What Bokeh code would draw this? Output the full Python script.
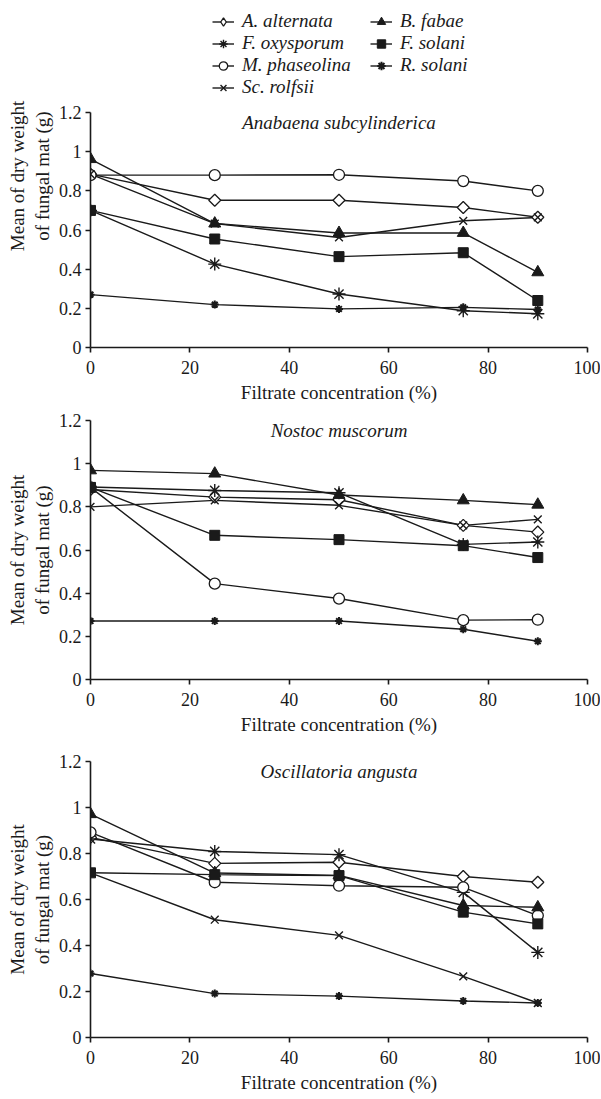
import math
from bokeh.plotting import figure
from bokeh.models import (Range1d, FixedTicker, Legend, LegendItem, Label,
                          ColumnDataSource)
from bokeh.layouts import column
from bokeh.embed import file_html
from bokeh.resources import INLINE

# ---------------- data ----------------
conc = [0, 25, 50, 75, 90]
species = ["A. alternata", "F. oxysporum", "M. phaseolina", "Sc. rolfsii",
           "B. fabae", "F. solani", "R. solani"]
panel_titles = ["Anabaena subcylinderica", "Nostoc muscorum", "Oscillatoria angusta"]
x_ticks = [0, 20, 40, 60, 80, 100]
y_ticks = [0, 0.2, 0.4, 0.6, 0.8, 1, 1.2]
y_tick_labels = ["0", "0.2", "0.4", "0.6", "0.8", "1", "1.2"]
y_max = 1.2

# Anabaena subcylinderica
ana_alternata = [0.885, 0.752, 0.752, 0.715, 0.665]
ana_oxysporum = [0.70, 0.426, 0.273, 0.188, 0.172]
ana_phaseolina = [0.88, 0.88, 0.882, 0.85, 0.80]
ana_rolfsii = [0.885, 0.633, 0.562, 0.647, 0.664]
ana_fabae = [0.962, 0.633, 0.585, 0.585, 0.384]
ana_fsolani = [0.70, 0.554, 0.464, 0.484, 0.24]
ana_rsolani = [0.27, 0.219, 0.197, 0.205, 0.194]

# Nostoc muscorum
nos_alternata = [0.88, 0.845, 0.833, 0.714, 0.683]
nos_oxysporum = [0.892, 0.876, 0.865, 0.626, 0.637]
nos_phaseolina = [0.89, 0.444, 0.375, 0.275, 0.277]
nos_rolfsii = [0.80, 0.83, 0.807, 0.714, 0.742]
nos_fabae = [0.969, 0.954, 0.855, 0.83, 0.81]
nos_fsolani = [0.89, 0.668, 0.648, 0.62, 0.565]
nos_rsolani = [0.271, 0.271, 0.271, 0.233, 0.177]

# Oscillatoria angusta
osc_alternata = [0.87, 0.757, 0.762, 0.70, 0.675]
osc_oxysporum = [0.863, 0.809, 0.795, 0.631, 0.37]
osc_phaseolina = [0.892, 0.675, 0.66, 0.653, 0.53]
osc_rolfsii = [0.716, 0.512, 0.444, 0.266, 0.15]
osc_fabae = [0.971, 0.715, 0.705, 0.574, 0.566]
osc_fsolani = [0.716, 0.708, 0.704, 0.545, 0.494]
osc_rsolani = [0.278, 0.191, 0.18, 0.159, 0.15]

panels = [
    [ana_alternata, ana_oxysporum, ana_phaseolina, ana_rolfsii, ana_fabae, ana_fsolani, ana_rsolani],
    [nos_alternata, nos_oxysporum, nos_phaseolina, nos_rolfsii, nos_fabae, nos_fsolani, nos_rsolani],
    [osc_alternata, osc_oxysporum, osc_phaseolina, osc_rolfsii, osc_fabae, osc_fsolani, osc_rsolani],
]

# ---------------- styles ----------------
INK = "#1a1a1a"
FONT = "Liberation Serif"
styles = {
    "A. alternata": dict(marker="square", angle=math.pi / 4, size=8.5, fill_color="white", line_width=1.3),
    "F. oxysporum": dict(marker="asterisk", angle=0, size=13, fill_color=INK, line_width=1.4),
    "M. phaseolina": dict(marker="circle", angle=0, size=11, fill_color="white", line_width=1.3),
    "Sc. rolfsii": dict(marker="x", angle=0, size=11, fill_color=INK, line_width=1.4),
    "B. fabae": dict(marker="triangle", angle=0, size=12, fill_color=INK, line_width=1.0),
    "F. solani": dict(marker="square", angle=0, size=10, fill_color=INK, line_width=1.0),
    "R. solani": dict(marker="asterisk", angle=0, size=8, fill_color=INK, line_width=2.0),
}

W = 600
LEFT = 90
RIGHT = 13
# (figure height, top border, bottom border, free frame px above the 1.2 line)
geom = [(410, 4, 63, 108), (340, 10, 71, 0), (347, 11, 60, 0)]

figs = []
for k, (data, title) in enumerate(zip(panels, panel_titles)):
    h, bt, bb, pad = geom[k]
    frame_h = h - bt - bb
    y_end = y_max * frame_h / (frame_h - pad)
    p = figure(width=W, height=h, output_backend="svg", toolbar_location=None,
               x_range=Range1d(0, 100), y_range=Range1d(0, y_end),
               min_border_left=LEFT, min_border_right=RIGHT,
               min_border_top=bt, min_border_bottom=bb,
               outline_line_color=None)
    p.xgrid.visible = False
    p.ygrid.visible = False
    line_rs, mark_rs = [], []
    for name, ys in zip(species, data):
        src = ColumnDataSource(dict(x=conc, y=ys))
        line_rs.append(p.line("x", "y", source=src, line_color=INK, line_width=1.4))
    for name, ys in zip(species, data):
        st = styles[name]
        src = ColumnDataSource(dict(x=conc, y=ys))
        mark_rs.append(p.scatter("x", "y", source=src, marker=st["marker"], angle=st["angle"],
                                 size=st["size"], fill_color=st["fill_color"], line_color=INK,
                                 line_width=st["line_width"]))
    # axes
    p.xaxis.ticker = FixedTicker(ticks=x_ticks)
    p.yaxis.ticker = FixedTicker(ticks=y_ticks)
    p.yaxis.bounds = (0, y_max)
    p.yaxis.major_label_overrides = {t: l for t, l in zip(y_ticks, y_tick_labels)}
    for ax in (p.xaxis[0], p.yaxis[0]):
        ax.axis_line_color = INK
        ax.axis_line_width = 1.6
        ax.major_tick_line_color = INK
        ax.major_tick_line_width = 1.6
        ax.major_tick_in = 0
        ax.major_tick_out = 5
        ax.minor_tick_line_color = None
        ax.major_label_text_font = FONT
        ax.major_label_text_font_size = "18px"
        ax.major_label_text_color = INK
        ax.axis_label_text_font = FONT
        ax.axis_label_text_font_size = "19px"
        ax.axis_label_text_font_style = "normal"
        ax.axis_label_text_color = INK
    p.xaxis.major_label_standoff = 8
    p.xaxis.axis_label_standoff = 5
    p.yaxis.major_label_standoff = 4
    p.yaxis.axis_label_standoff = 3
    p.xaxis.axis_label = "Filtrate concentration (%)"
    p.yaxis.axis_label = "Mean of dry weight\nof fungal mat (g)"
    p.add_layout(Label(x=50, y=frame_h - pad - 10, y_units="screen", text=title,
                       text_align="center", text_baseline="alphabetic",
                       text_font=FONT, text_font_style="italic",
                       text_font_size="19px", text_color=INK))
    if k == 0:
        # legend swatch for the diamond series (the legend ignores marker angle)
        diamond_key = p.scatter(conc, data[0], marker="diamond", size=13,
                                fill_color="white", line_color=INK, line_width=1.3,
                                visible=False)
        legend_marks = [diamond_key] + mark_rs[1:]
        items = [LegendItem(label=name, renderers=[lr, mr])
                 for name, lr, mr in zip(species, line_rs, legend_marks)]
        legend = Legend(items=items, location=(122, frame_h - pad + 14), nrows=4,
                        orientation="vertical", click_policy="none",
                        border_line_color=None, background_fill_alpha=0,
                        inactive_fill_alpha=0,
                        padding=0, margin=0,
                        glyph_width=22, glyph_height=21, label_height=21, spacing=0,
                        label_standoff=8, label_width=128,
                        label_text_font=FONT, label_text_font_style="italic",
                        label_text_font_size="19px", label_text_color=INK)
        p.add_layout(legend, "center")
    figs.append(p)

layout = column(*figs, spacing=0)
open("out.html", "w").write(file_html(layout, INLINE))
